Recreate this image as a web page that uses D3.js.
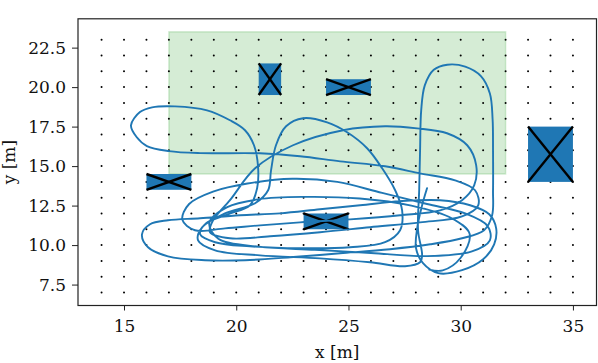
<!DOCTYPE html>
<html><head><meta charset="utf-8">
<script src="https://cdn.jsdelivr.net/npm/d3@7"></script>
<style>html,body{margin:0;padding:0;background:#fff;}svg{display:block;}</style>
</head><body>
<svg id="chart" width="598" height="363"></svg>
<script>
// ---- data ----
const xTicks = [15, 20, 25, 30, 35];
const yTicks = [7.5, 10, 12.5, 15, 17.5, 20, 22.5];
const gridXs = [14,15,16,17,18,19,20,21,22,23,24,25,26,27,28,29,30,31,32,33,34,35];
const gridYs = [7,8,9,10,11,12,13,14,15,16,17,18,19,20,21,22,23];
const goalRegion = [17, 32, 14.5, 23.5]; // x0, x1, y0, y1
const obstaclesX0 = [21, 24, 33, 16, 23];
const obstaclesX1 = [22, 26, 35, 18, 25];
const obstaclesY0 = [19.5, 19.5, 14, 13.5, 11];
const obstaclesY1 = [21.5, 20.5, 17.5, 14.5, 12];
const trajectory = [
 [28.50,13.60],[28.28,12.52],[28.06,11.06],[28.01,9.80],[28.32,8.85],[29.00,8.22],[30.06,8.41],[31.00,9.10],[31.49,10.05],[31.58,11.06],[31.27,11.95],[30.42,12.52],[29.08,12.84],[27.30,12.78],[25.52,12.52],[23.73,12.27],[21.95,12.01],[20.17,11.89],[18.39,11.70],[16.96,11.57],[16.16,11.32],[15.80,10.68],[16.07,9.86],[16.96,9.29],[18.61,9.04],[20.39,9.04],[22.40,9.23],[24.63,9.48],[26.85,9.74],[28.64,10.05],[30.06,10.43],[31.04,10.94],[31.40,11.89],
 [31.44,13.47],[31.44,16.00],[31.42,18.0],[31.30,19.6],[30.90,20.7],[30.20,21.3],[29.40,21.42],[28.80,21.10],[28.40,20.11],[28.24,18.53],[28.19,16.00],[28.15,13.47],[28.10,10.94],[28.28,9.35],[28.19,8.91],[27.52,8.66],[25.96,8.91],[23.73,9.16],[21.06,9.35],[19.06,9.67],[18.30,10.30],[18.48,11.13],[19.50,12.01],[20.84,12.65],[21.42,13.47],
 [21.55,14.73],[21.77,16.32],[22.22,17.52],[22.98,18.03],[24.05,17.77],[24.94,17.14],[25.83,16.13],[26.50,14.86],[27.08,13.47],[27.39,12.20],[27.30,10.94],[26.63,10.18],[25.07,9.86],[22.84,9.80],[20.61,9.92],[19.06,10.18],[18.39,10.68],[18.66,11.38],[19.63,11.95],
 [20.61,12.52],[20.93,13.60],[20.97,14.99],[20.79,16.32],[20.39,17.27],[19.72,17.90],[18.70,18.53],[17.27,18.78],[16.25,18.72],[15.71,18.42],[15.31,17.58],[15.56,16.84],[16.02,16.27],[17.00,15.95],[18.39,15.82],[21.06,15.81],[22.84,15.62],[24.63,15.30],[26.63,14.99],[28.19,14.54],[29.75,14.10],[30.64,13.47],[30.78,12.52],[30.06,11.82],[28.19,11.44],[25.96,11.13],[23.73,10.81],[21.51,10.56],[19.72,10.43],[18.83,10.81],[18.97,11.57],[19.72,12.84],
 [20.84,14.86],[22.53,16.32],[24.76,17.27],[26.63,17.52],[28.06,17.39],[29.39,17.08],[30.29,16.32],[30.69,15.05],[30.60,13.78],[30.06,12.84],[29.08,12.20],[27.30,11.89],[25.07,11.63],[22.84,11.44],[21.06,11.25],[19.50,11.06],[18.16,10.94],
 [17.60,11.60],[17.90,12.60],[19.00,13.40],[20.50,13.90],[22.50,14.20],[24.50,14.00],[26.50,13.30],[28.50,12.60],[30.20,12.00],[31.20,11.20],[31.30,10.30],[30.50,9.60],[28.50,9.30],[26.00,9.50],[23.50,9.70],[21.00,9.90],[19.20,10.40],[18.80,11.40],[19.60,12.40],[21.00,12.90],[23.00,13.05],[25.50,12.95],[27.80,12.50],[29.60,11.70],[30.40,10.70],[30.00,9.20],[29.20,8.40],[28.60,8.45]
];

// ---- layout ----
const svg = d3.select("#chart");
const mLeft = 78, mRight = 596.5, mTop = 18.8, mBottom = 305.5;
const x = d3.scaleLinear().domain([12.95, 36.05]).range([mLeft, mRight]);
const y = d3.scaleLinear().domain([6.175, 24.325]).range([mBottom, mTop]);
const font = "'DejaVu Serif', serif";
const fs = 17;

// goal region
svg.append("rect")
  .attr("x", x(goalRegion[0])).attr("y", y(goalRegion[3]))
  .attr("width", x(goalRegion[1]) - x(goalRegion[0]))
  .attr("height", y(goalRegion[2]) - y(goalRegion[3]))
  .attr("fill", "rgba(44,160,44,0.2)")
  .attr("stroke", "rgba(44,160,44,0.2)").attr("stroke-width", 1.5);

// dot grid
const pts = [];
gridXs.forEach(gx => gridYs.forEach(gy => pts.push([gx, gy])));
svg.append("g").selectAll("circle").data(pts).join("circle")
  .attr("cx", d => x(d[0])).attr("cy", d => y(d[1])).attr("r", 1.0).attr("fill", "#000");

// obstacles
const obs = obstaclesX0.map((v, i) => ({x0: v, x1: obstaclesX1[i], y0: obstaclesY0[i], y1: obstaclesY1[i]}));
const og = svg.append("g");
og.selectAll("rect").data(obs).join("rect")
  .attr("x", d => x(d.x0)).attr("y", d => y(d.y1))
  .attr("width", d => x(d.x1) - x(d.x0)).attr("height", d => y(d.y0) - y(d.y1))
  .attr("fill", "#1f77b4");
og.selectAll("line.a").data(obs).join("line").attr("class", "a")
  .attr("x1", d => x(d.x0)).attr("y1", d => y(d.y0)).attr("x2", d => x(d.x1)).attr("y2", d => y(d.y1))
  .attr("stroke", "#000").attr("stroke-width", 2.4);
og.selectAll("line.b").data(obs).join("line").attr("class", "b")
  .attr("x1", d => x(d.x0)).attr("y1", d => y(d.y1)).attr("x2", d => x(d.x1)).attr("y2", d => y(d.y0))
  .attr("stroke", "#000").attr("stroke-width", 2.4);

// trajectory
const line = d3.line().x(d => x(d[0])).y(d => y(d[1])).curve(d3.curveCatmullRom.alpha(0.5));
svg.append("path").datum(trajectory).attr("d", line)
  .attr("fill", "none").attr("stroke", "#1f77b4").attr("stroke-width", 1.9)
  .attr("stroke-linejoin", "round").attr("stroke-linecap", "round");

// axes
const xAxis = d3.axisBottom(x).tickValues(xTicks).tickSize(5).tickPadding(4).tickFormat(d3.format("d"));
const yAxis = d3.axisLeft(y).tickValues(yTicks).tickSize(6).tickPadding(6).tickFormat(d3.format(".1f"));
const gx = svg.append("g").attr("transform", `translate(0,${mBottom})`).call(xAxis);
const gy = svg.append("g").attr("transform", `translate(${mLeft},0)`).call(yAxis);
[gx, gy].forEach(g => {
  g.select(".domain").remove();
  g.selectAll(".tick line").attr("stroke", "#222").attr("stroke-width", 1);
  g.selectAll(".tick text").attr("font-family", font).attr("font-size", fs).attr("fill", "#111");
});
gx.selectAll(".tick text").attr("dy", "1.0em");
// frame
svg.append("rect").attr("x", mLeft).attr("y", mTop).attr("width", mRight - mLeft).attr("height", mBottom - mTop)
  .attr("fill", "none").attr("stroke", "#222").attr("stroke-width", 1.2);

// axis labels
svg.append("text").attr("x", (mLeft + mRight) / 2).attr("y", 357.5).attr("text-anchor", "middle")
  .attr("font-family", font).attr("font-size", fs).attr("fill", "#111").text("x [m]");
svg.append("text").attr("transform", `translate(14.5,${(mTop + mBottom) / 2}) rotate(-90)`).attr("text-anchor", "middle")
  .attr("font-family", font).attr("font-size", fs).attr("fill", "#111").text("y [m]");
</script>
</body></html>
